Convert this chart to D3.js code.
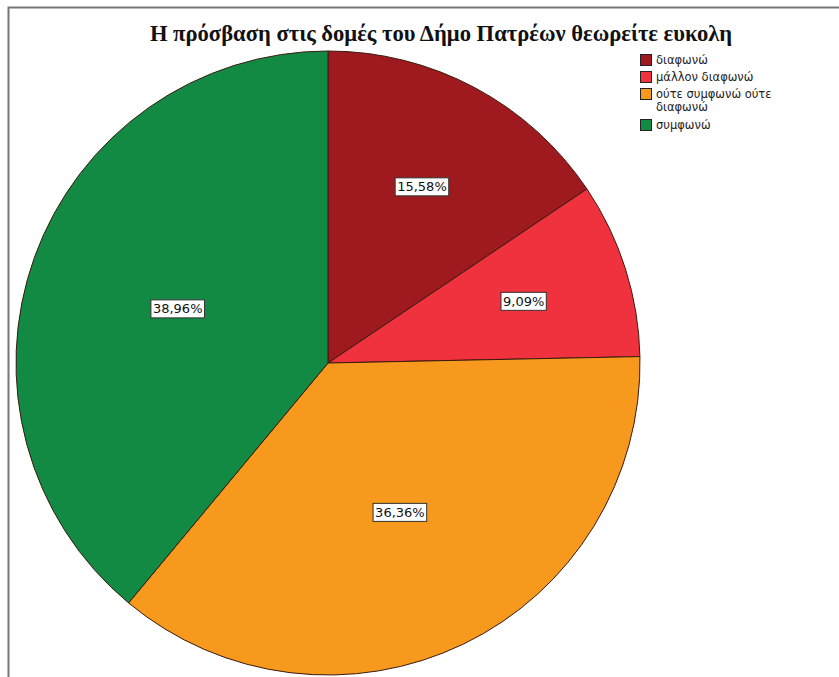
<!DOCTYPE html>
<html><head><meta charset="utf-8">
<script src="https://cdn.jsdelivr.net/npm/d3@7"></script>
<style>body{margin:0;background:#fff}</style>
</head><body>
<svg id="c" width="839" height="677"></svg>
<script>
const categories = ["διαφωνώ", "μάλλον διαφωνώ", "ούτε συμφωνώ ούτε διαφωνώ", "συμφωνώ"];
const values = [15.58, 9.09, 36.36, 38.96];
const colors = ["#9e1a1e", "#f0323e", "#f7991d", "#138a44"];
const labels = ["15,58%", "9,09%", "36,36%", "38,96%"];
const legendLines = [["διαφωνώ"], ["μάλλον διαφωνώ"], ["ούτε συμφωνώ ούτε", "διαφωνώ"], ["συμφωνώ"]];
const title = "Η πρόσβαση στις δομές του Δήμο Πατρέων θεωρείτε ευκολη";

const svg = d3.select("#c");
svg.append("rect").attr("width",839).attr("height",677).attr("fill","#fff");
// frame
svg.append("path").attr("d","M8.5,677 L8.5,7.5 L839,7.5").attr("fill","none").attr("stroke","#777").attr("stroke-width",2);

svg.append("text").attr("x",441).attr("y",41).attr("text-anchor","middle")
  .attr("font-family","'Liberation Serif','Times New Roman',serif").attr("font-weight","bold")
  .attr("font-size",22.6).attr("fill","#111").text(title);

const cx = 328, cy = 363, r = 312;
const pie = d3.pie().sort(null).value(d=>d)(values);
const arc = d3.arc().innerRadius(0).outerRadius(r);
const g = svg.append("g").attr("transform",`translate(${cx},${cy})`);
g.selectAll("path").data(pie).join("path").attr("d",arc)
  .attr("fill",(d,i)=>colors[i]).attr("stroke","#3a1a10").attr("stroke-width",1);

// labels at area centroid of each sector
function centroid(d){
  const th = d.endAngle - d.startAngle, mid = (d.startAngle + d.endAngle)/2;
  const dist = 2*r*Math.sin(th/2)/(3*th/2);
  return [dist*Math.sin(mid), -dist*Math.cos(mid)];
}
const lg = g.selectAll("g.lab").data(pie).join("g").attr("class","lab")
  .attr("transform",d=>`translate(${centroid(d)})`);
lg.each(function(d,i){
  const s = d3.select(this);
  const t = s.append("text").attr("text-anchor","middle").attr("dy","0.36em")
    .attr("font-family","'DejaVu Sans',sans-serif").attr("font-size",13).attr("fill","#111").text(labels[i]);
  const bb = t.node().getBBox();
  s.insert("rect","text").attr("x",bb.x-2).attr("y",bb.y-1.5).attr("width",bb.width+4).attr("height",bb.height+3)
    .attr("fill","#fff").attr("stroke","#333").attr("stroke-width",1);
});

// legend
const leg = svg.append("g");
let y = 54;
legendLines.forEach((lines,i)=>{
  leg.append("rect").attr("x",640.5).attr("y",y+0.5).attr("width",11).attr("height",11)
    .attr("fill",colors[i]).attr("stroke","#222").attr("stroke-width",1);
  lines.forEach((ln,j)=>{
    leg.append("text").attr("x",656).attr("y",y+10+j*13).attr("font-family","'DejaVu Sans',sans-serif")
      .attr("font-size",11.5).attr("fill","#222").text(ln);
  });
  y += lines.length===2 ? 31 : 17;
});
</script>
</body></html>
